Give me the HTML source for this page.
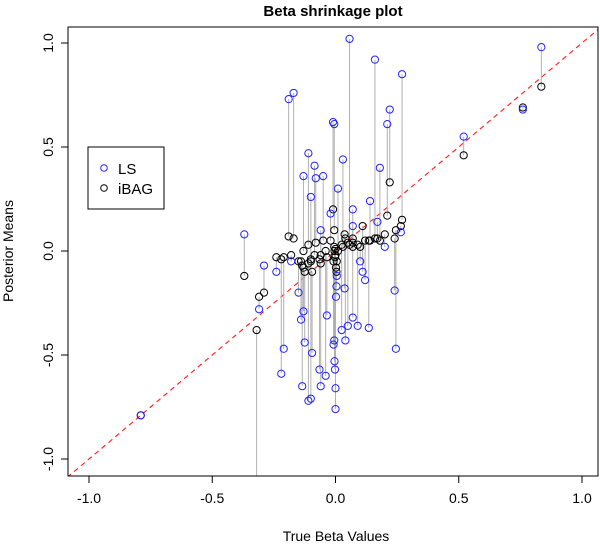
<!DOCTYPE html>
<html><head><meta charset="utf-8"><style>
body{margin:0;background:#fff;font-family:"Liberation Sans",Arial,sans-serif}
svg text{font-family:"Liberation Sans",Arial,sans-serif}
</style></head><body>
<svg id="c" width="600" height="545">
<text x="333" y="16" text-anchor="middle" font-size="15" font-weight="bold">Beta shrinkage plot</text>
<defs><clipPath id="cp"><rect x="68" y="27" width="530" height="449"/></clipPath></defs>
<g id="marks" clip-path="url(#cp)"></g>
<rect x="68" y="27" width="530" height="449" fill="none" stroke="#000"/>
<g id="axes"></g>
<text x="336" y="541" text-anchor="middle" font-size="14">True Beta Values</text>
<text transform="translate(13,251) rotate(-90)" text-anchor="middle" font-size="14">Posterior Means</text>
<g>
<rect x="88" y="147" width="76" height="62" fill="#fff" stroke="#000"/>
<circle cx="104" cy="168" r="3.3" fill="none" stroke="#2222ff"/>
<text x="118" y="174" font-size="15">LS</text>
<circle cx="104" cy="188" r="3.3" fill="none" stroke="#000"/>
<text x="118" y="194" font-size="15">iBAG</text>
</g>
</svg>
<script>
const trueBeta=[.057,.16,.27,-.19,-.17,-.01,-.005,.22,.21,-.11,-.085,-.13,-.08,-.05,.03,.18,-.1,.14,.07,.17,-.06,.07,-.37,-.29,-.31,-.32,-.22,-.21,-.13,-.14,-.135,-.125,-.11,-.1,-.095,-.065,-.06,-.04,-.035,-.005,-.008,-.004,-.002,0,0,.002,.004,.005,.04,.05,.037,.07,.025,.09,.12,.135,.24,.245,.265,.11,-.79,.52,.76,.835,-.24,-.18,-.15,-.02,.01,.1,.2];
const lsMeans=[1.02,.92,.85,.73,.76,.62,.61,.68,.61,.47,.41,.36,.35,.36,.44,.40,.26,.24,.20,.14,.10,.12,.08,-.07,-.28,-1.3,-.59,-.47,-.29,-.33,-.65,-.44,-.72,-.71,-.49,-.57,-.65,-.6,-.31,-.43,-.45,-.53,-.57,-.66,-.76,-.22,-.17,-.12,-.43,-.36,-.18,-.32,-.38,-.36,-.14,-.37,-.19,-.47,.09,-.1,-.79,.55,.68,.98,-.1,-.05,-.2,.18,.3,-.05,.02];
const ibagMeans=[.03,.06,.15,.07,.06,.2,.1,.33,.17,.03,-.02,0,.04,.05,.02,.05,-.05,.05,.02,.06,-.02,.04,-.12,-.2,-.22,-.38,-.04,-.03,-.08,-.05,-.07,-.1,-.06,-.04,-.1,-.04,-.06,0,-.03,.02,-.05,0,-.03,.01,-.02,-.08,-.1,-.05,.06,.04,.08,.06,.03,.03,.05,.05,.06,.1,.12,.12,-.79,.46,.69,.79,-.03,-.02,-.05,.05,.0,.02,.08];
const xTicks=[-1,-0.5,0,0.5,1];
const yTicks=[-1,-0.5,0,0.5,1];
const xTickLabels=["-1.0","-0.5","0.0","0.5","1.0"];
const yTickLabels=["-1.0","-0.5","0.0","0.5","1.0"];
const NS="http://www.w3.org/2000/svg";
const sx=v=>335.5+v*246.5, sy=v=>251-v*208;
const mk=(t,a,p)=>{const e=document.createElementNS(NS,t);for(const k in a)e.setAttribute(k,a[k]);p.appendChild(e);return e;};
const marks=document.getElementById('marks'),axes=document.getElementById('axes');
let l=mk('line',{x1:sx(-1.2),y1:sy(-1.2),x2:sx(1.2),y2:sy(1.2),stroke:'#ff2a2a','stroke-width':1.2,'stroke-dasharray':'5,4'},marks);


trueBeta.forEach((x,i)=>{
 const s=mk('line',{x1:sx(x),x2:sx(x),y1:sy(lsMeans[i]),y2:sy(ibagMeans[i]),stroke:'#b0b0b0','stroke-width':1},marks);
 
 
});
trueBeta.forEach((x,i)=>{
 const c=mk('circle',{cx:sx(x),cy:sy(ibagMeans[i]),r:3.6,fill:'none',stroke:'#000','stroke-width':1},marks);
 
 
});
trueBeta.forEach((x,i)=>{
 const c=mk('circle',{cx:sx(x),cy:sy(lsMeans[i]),r:3.6,fill:'none',stroke:'#2222ff','stroke-width':1},marks);
 
 
});
xTicks.forEach((v,i)=>{
 const t=mk('line',{x1:sx(v),x2:sx(v),y1:476,y2:483,stroke:'#000'},axes);
 
 
 const tx=mk('text',{x:sx(v),y:503,'text-anchor':'middle','font-size':14},axes);
 tx.textContent=xTickLabels[i];
 
 
});
yTicks.forEach((v,i)=>{
 const t=mk('line',{x1:61,x2:68,y1:sy(v),y2:sy(v),stroke:'#000'},axes);
 
 
 const tx=mk('text',{transform:`translate(53,${sy(v)}) rotate(-90)`,'text-anchor':'middle','font-size':14},axes);
 tx.textContent=yTickLabels[i];
 
 
});
</script>
</body></html>
